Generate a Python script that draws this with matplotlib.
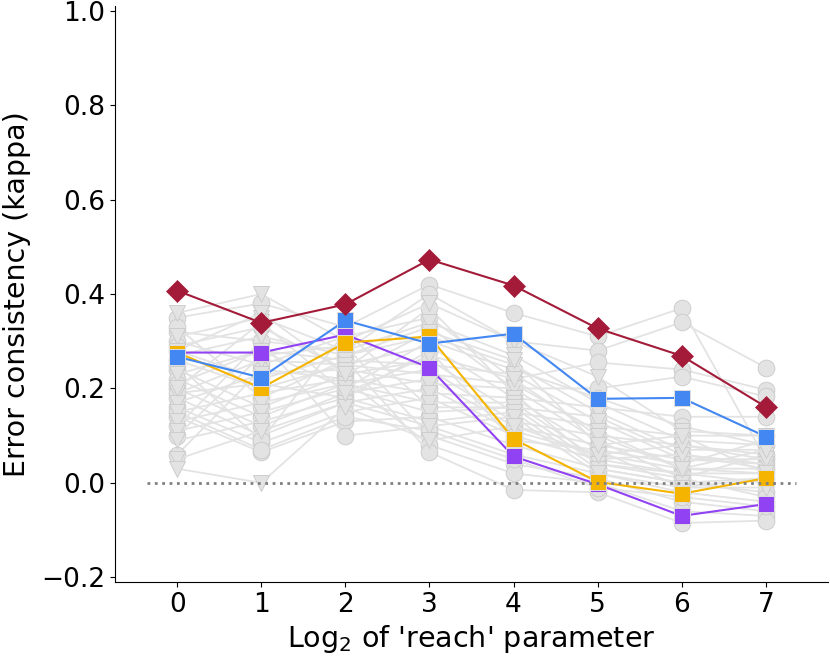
import numpy as np
import matplotlib
matplotlib.use('Agg')
import matplotlib.pyplot as plt

reach = [0, 1, 2, 3, 4, 5, 6, 7]

# grey background models (circle markers)
circle_models = [
    [0.35, 0.38, 0.33, 0.42, 0.36, 0.31, 0.37, 0.05],
    [0.32, 0.30, 0.28, 0.40, 0.30, 0.28, 0.34, 0.244],
    [0.30, 0.25, 0.31, 0.35, 0.22, 0.255, 0.24, 0.197],
    [0.28, 0.22, 0.27, 0.33, 0.20, 0.20, 0.225, 0.183],
    [0.26, 0.20, 0.25, 0.29, 0.18, 0.16, 0.14, 0.14],
    [0.24, 0.16, 0.23, 0.26, 0.15, 0.12, 0.10, 0.10],
    [0.22, 0.14, 0.21, 0.24, 0.13, 0.10, 0.08, 0.06],
    [0.20, 0.12, 0.19, 0.22, 0.12, 0.08, 0.05, 0.04],
    [0.18, 0.10, 0.17, 0.20, 0.11, 0.06, 0.03, 0.02],
    [0.16, 0.085, 0.15, 0.18, 0.10, 0.05, 0.02, 0.00],
    [0.14, 0.065, 0.13, 0.14, 0.08, 0.03, 0.00, -0.02],
    [0.12, 0.30, 0.10, 0.12, 0.06, 0.02, -0.02, -0.04],
    [0.10, 0.27, 0.29, 0.10, 0.04, 0.01, -0.04, -0.06],
    [0.06, 0.24, 0.22, 0.08, 0.02, 0.00, -0.06, -0.07],
    [0.33, 0.18, 0.26, 0.065, -0.015, -0.02, -0.085, -0.08],
    [0.21, 0.28, 0.20, 0.30, 0.24, 0.18, 0.12, 0.08],
    [0.25, 0.09, 0.32, 0.16, 0.16, 0.14, 0.06, 0.03],
    [0.19, 0.21, 0.18, 0.28, 0.09, 0.07, -0.01, 0.01],
    [0.29, 0.33, 0.24, 0.37, 0.19, 0.04, 0.01, -0.03],
    [0.15, 0.07, 0.14, 0.11, 0.05, -0.01, -0.03, -0.05],
]

# grey background models (triangle markers)
triangle_models = [
    [0.36, 0.40, 0.30, 0.38, 0.30, 0.225, 0.11, 0.10],
    [0.31, 0.35, 0.28, 0.34, 0.27, 0.17, 0.09, 0.08],
    [0.27, 0.31, 0.27, 0.31, 0.25, 0.15, 0.07, 0.07],
    [0.23, 0.28, 0.26, 0.25, 0.23, 0.13, 0.05, 0.05],
    [0.19, 0.26, 0.25, 0.23, 0.21, 0.11, 0.03, 0.03],
    [0.17, 0.23, 0.24, 0.21, 0.20, 0.09, 0.01, 0.06],
    [0.15, 0.19, 0.22, 0.19, 0.18, 0.07, 0.04, 0.09],
    [0.13, 0.17, 0.21, 0.17, 0.17, 0.05, 0.06, 0.04],
    [0.11, 0.15, 0.20, 0.15, 0.16, 0.04, 0.02, 0.02],
    [0.09, 0.13, 0.18, 0.13, 0.15, 0.03, 0.00, 0.01],
    [0.05, 0.11, 0.17, 0.12, 0.14, 0.02, -0.01, -0.01],
    [0.03, 0.00, 0.16, 0.09, 0.12, 0.06, 0.08, 0.05],
    [0.20, 0.34, 0.19, 0.27, 0.22, 0.10, 0.03, 0.07],
    [0.28, 0.36, 0.23, 0.32, 0.26, 0.08, 0.10, 0.02],
]

# highlighted models
red_vals = [0.407, 0.339, 0.378, 0.473, 0.418, 0.327, 0.269, 0.161]
blue_vals = [0.267, 0.223, 0.344, 0.295, 0.316, 0.178, 0.180, 0.098]
orange_vals = [0.276, 0.201, 0.297, 0.310, 0.093, 0.002, -0.023, 0.010]
purple_vals = [0.276, 0.276, 0.314, 0.244, 0.056, -0.003, -0.070, -0.045]

grey = '#e3e3e3'
grey_edge = '#cdcdcd'

fig = plt.figure(figsize=(8.3, 6.56), dpi=100)
ax = fig.add_axes([115/830, 1-582/656, 713/830, 576/656])

for vals in circle_models:
    ax.plot(reach, vals, c=grey, lw=1.3, marker='o', ms=12,
            mfc=grey, mec=grey_edge, mew=0.7, zorder=1)
for vals in triangle_models:
    ax.plot(reach, vals, c=grey, lw=1.3, marker='v', ms=12,
            mfc=grey, mec=grey_edge, mew=0.7, zorder=1)

ax.plot(reach, purple_vals, c='#9142F2', lw=1.5, marker='s', ms=12,
        mec='#dddddd', mew=0.7, zorder=3)
ax.plot(reach, orange_vals, c='#F4B400', lw=1.5, marker='s', ms=12,
        mec='#dddddd', mew=0.7, zorder=4)
ax.plot(reach, blue_vals, c='#4287F2', lw=1.5, marker='s', ms=12,
        mec='#dddddd', mew=0.7, zorder=5)
ax.plot(reach, red_vals, c='#A31B38', lw=1.5, marker='D', ms=11,
        mec='#A31B38', mew=0.5, zorder=6)

ax.plot([-0.36, 7.36], [0, 0], c='grey', ls=':', lw=2, zorder=10)

ax.set_xlim(-0.74, 7.74)
ax.set_ylim(-0.21, 1.01)
ax.set_xticks(reach)
ax.set_yticks([-0.2, 0.0, 0.2, 0.4, 0.6, 0.8, 1.0])
ax.tick_params(labelsize=19)
ax.spines['top'].set_visible(False)
ax.spines['right'].set_visible(False)
ax.set_xlabel("Log$_2$ of 'reach' parameter", fontsize=20.5)
ax.set_ylabel('Error consistency (kappa)', fontsize=20.5)
ax.yaxis.set_label_coords(-0.118, 0.5)

fig.savefig('out.png', dpi=100)
